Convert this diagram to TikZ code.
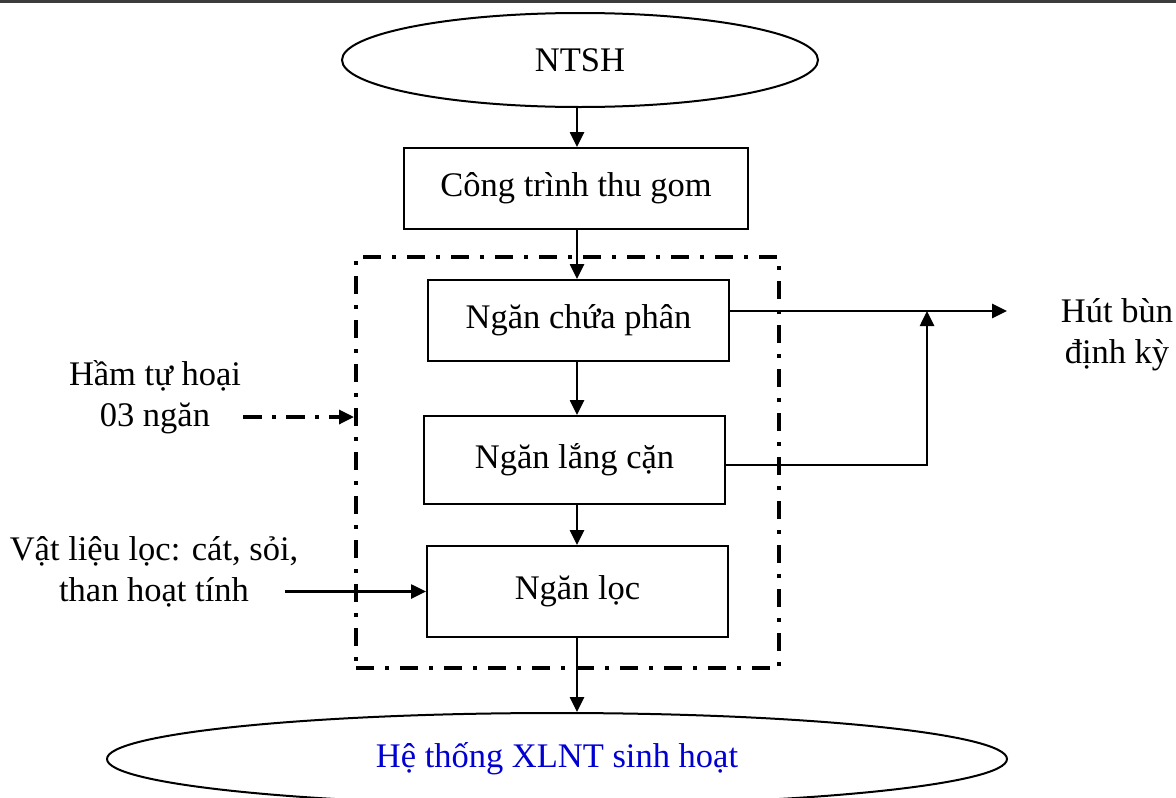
\documentclass[tikz,border=0pt]{standalone}
\usepackage{fontspec}
\setmainfont{Liberation Serif}
\usetikzlibrary{arrows.meta,shapes.geometric}
\definecolor{labelblue}{RGB}{0,0,210}
\definecolor{rulegray}{RGB}{60,60,60}
\begin{document}
\begin{tikzpicture}[x=1pt,y=-1pt,
  every node/.style={font=\fontsize{34.5}{41}\selectfont, inner sep=0pt},
  stagebox/.style={draw, line width=2pt, rectangle},
  terminal/.style={draw, line width=2pt, ellipse},
  flow/.style={line width=2.6pt, -{Triangle[length=15pt,width=14pt]}},
  tankframe/.style={draw, line width=4pt, dash pattern=on 18pt off 11pt on 4pt off 11pt},
  pointer/.style={line width=3.3pt, dash pattern=on 19pt off 10pt on 4pt off 10pt,
    -{Triangle[length=15pt,width=14pt]}}]
\useasboundingbox (0,0) rectangle (1176,798);

% page rule along the top edge
\draw[line width=2.7pt, rulegray] (0,1.35) -- (1176,1.35);

% septic tank outline (three chambers)
\node[tankframe, minimum width=423pt, minimum height=411pt] (tank) at (567.5,462.5) {};

% flow stages
\node[terminal, minimum width=476pt, minimum height=94pt] (ntsh) at (580,60) {NTSH};
\node[stagebox, minimum width=344pt, minimum height=81pt] (collect) at (576,188.5) {Công trình thu gom};
\node[stagebox, minimum width=301pt, minimum height=81pt] (feces) at (578.5,320.5) {Ngăn chứa phân};
\node[stagebox, minimum width=301pt, minimum height=88pt] (settle) at (574.5,460) {Ngăn lắng cặn};
\node[stagebox, minimum width=301pt, minimum height=91pt] (filter) at (577.5,591.5) {Ngăn lọc};
\node[terminal, minimum width=900pt, minimum height=92pt, text=labelblue] (treat) at (557,759) {Hệ thống XLNT sinh hoạt};

% side labels, placed by the baseline of their last line
\node[align=center, anchor=base] (tanklbl) at (155,426) {Hầm tự hoại\\03 ngăn};
\node[align=center, anchor=base] (medialbl) at (154,601) {Vật liệu lọc: cát, sỏi,\\than hoạt tính};
\node[align=center, anchor=base] (sludgelbl) at (1117,363) {Hút bùn\\định kỳ};

% helper points
\coordinate (spine) at (577,0);
\coordinate (junction) at (927,311);
\coordinate (bend) at (927,465);
\coordinate (sludgeend) at (1007,311);
\coordinate (tankstart) at (243,417);
\coordinate (mediastart) at (285,591.5);

% main flow
\draw[flow] (ntsh.south -| spine) -- (collect.north -| spine);
\draw[flow] (collect.south -| spine) -- (feces.north -| spine);
\draw[flow] (feces.south -| spine) -- (settle.north -| spine);
\draw[flow] (settle.south -| spine) -- (filter.north -| spine);
\draw[flow] (filter.south -| spine) -- (treat.north -| spine);

% sludge withdrawal
\draw[flow] (feces.east |- junction) -- (sludgeend);
\draw[flow] (settle.east |- bend) -- (bend) -- (junction);

% inputs from the left
\draw[pointer] (tankstart) -- (tank.west |- tankstart);
\draw[flow] (mediastart) -- (filter.west);
\end{tikzpicture}
\end{document}
